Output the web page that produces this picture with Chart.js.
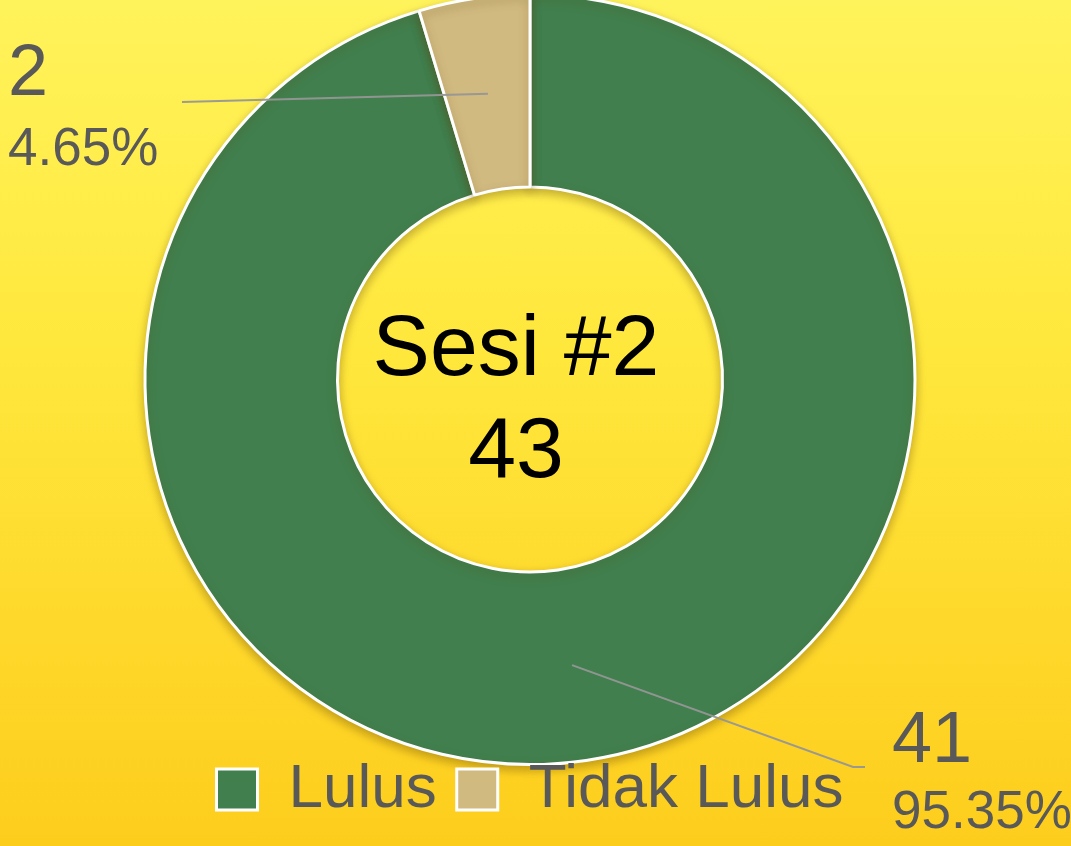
<!DOCTYPE html>
<html><head><meta charset="utf-8">
<script src="https://cdn.jsdelivr.net/npm/chart.js@4.4.1/dist/chart.umd.min.js"></script>
<style>
html,body{margin:0;padding:0;width:1071px;height:846px;overflow:hidden;}
body{background:linear-gradient(to bottom,#FFF35B 0%,#FFE83D 40%,#FED82B 75%,#FDCD1C 100%);position:relative;font-family:"Liberation Sans",Arial,sans-serif;}
#wrap{position:absolute;left:0;top:-7px;width:1071px;height:866px;}
</style></head><body>
<div id="wrap"><canvas id="c" width="1071" height="866"></canvas></div>
<script>
const categories = ['Lulus', 'Tidak Lulus'];
const values = [41, 2];
const centerTitle = 'Sesi #2';
const sliceColors = ['#41804E', '#D1BA80'];

const FONT = '"Liberation Sans", Arial, sans-serif';
const OFF = 7; // canvas is shifted up by 7px

const labelAnchors = [
  {line: [[853, 767], [865, 767]], x: 892, valueY: 762, pctY: 828},
  {line: [[182, 102]], x: 8, valueY: 95, pctY: 165}
];

const decorPlugin = {
  id: 'decor',
  beforeLayout(chart) {
    const lg = chart.legend;
    if (lg) {
      lg._layers = function () { return [{z: 1, draw: (ca) => lg.draw(ca)}]; };
    }
  },
  afterLayout(chart) {
    const lg = chart.legend;
    const target = 796.5 - 20 - 31;
    const dy = target - lg.top;
    lg.top += dy; lg.bottom += dy;
  },
  beforeDatasetsDraw(chart) {
    const ctx = chart.ctx;
    ctx.save();
    ctx.shadowColor = 'rgba(90,60,0,0.35)';
    ctx.shadowBlur = 10;
    ctx.shadowOffsetY = 4;
  },
  afterDatasetsDraw(chart) {
    chart.ctx.restore();
    const ctx = chart.ctx;
    const meta = chart.getDatasetMeta(0);
    const data = chart.data.datasets[0].data;
    const total = data.reduce((a, b) => a + b, 0);
    meta.data.forEach((arc, i) => {
      const p = arc.getProps(['x', 'y', 'startAngle', 'endAngle', 'innerRadius', 'outerRadius'], true);
      const a = (p.startAngle + p.endAngle) / 2;
      const r = (p.innerRadius + p.outerRadius) / 2;
      const sx = p.x + Math.cos(a) * r, sy = p.y + Math.sin(a) * r;
      const an = labelAnchors[i];
      ctx.save();
      ctx.strokeStyle = 'rgba(150,150,150,0.95)';
      ctx.lineWidth = 2;
      ctx.beginPath();
      ctx.moveTo(sx, sy);
      an.line.forEach(pt => ctx.lineTo(pt[0], pt[1] + OFF));
      ctx.stroke();
      ctx.fillStyle = '#595959';
      ctx.textAlign = 'left';
      ctx.textBaseline = 'alphabetic';
      ctx.font = '72px ' + FONT;
      ctx.fillText(String(data[i]), an.x, an.valueY + OFF);
      ctx.font = '53px ' + FONT;
      ctx.fillText((data[i] / total * 100).toFixed(2) + '%', an.x, an.pctY + OFF);
      ctx.restore();
    });
    const c = meta.data[0];
    ctx.save();
    ctx.fillStyle = '#000';
    ctx.textAlign = 'center';
    ctx.textBaseline = 'alphabetic';
    ctx.font = '86px ' + FONT;
    ctx.fillText(centerTitle, c.x - 14, 375 + OFF);
    ctx.fillText(String(total), c.x - 14, 477 + OFF);
    ctx.restore();
  }
};

new Chart(document.getElementById('c'), {
  type: 'doughnut',
  data: {
    labels: categories,
    datasets: [{
      data: values,
      backgroundColor: sliceColors,
      borderColor: '#ffffff',
      borderWidth: 3,
      hoverOffset: 0
    }]
  },
  options: {
    responsive: false,
    animation: false,
    cutout: '50%',
    layout: {padding: {left: 143.5, right: 154.5, top: 0, bottom: 1}},
    plugins: {
      legend: {
        position: 'bottom',
        labels: {
          font: {family: FONT, size: 62},
          color: '#595959',
          boxWidth: 41,
          boxHeight: 41,
          padding: 20
        }
      },
      tooltip: {enabled: false}
    }
  },
  plugins: [decorPlugin]
});
</script>
</body></html>
